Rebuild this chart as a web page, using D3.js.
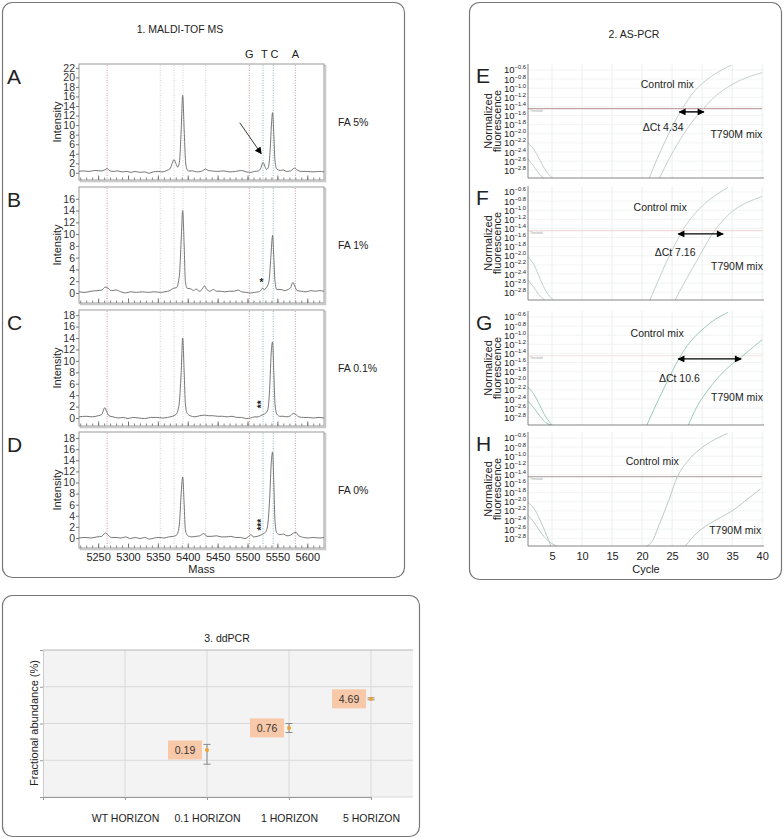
<!DOCTYPE html>
<html>
<head>
<meta charset="utf-8">
<script src="https://cdn.jsdelivr.net/npm/d3@7"></script>
<style>
  body { margin: 0; background: #fff; }
  svg { font-family: "Liberation Sans", Arial, Helvetica, sans-serif; }
</style>
</head>
<body>
<svg id="chart" width="784" height="838"></svg>
<script>
// ---------- 1. MALDI-TOF MS data ----------
var massDomain = [5218, 5628];
var massTicks = [5250, 5300, 5350, 5400, 5450, 5500, 5550, 5600];
var maldiLetters = ["A", "B", "C", "D"];
var faLabels = ["FA 5%", "FA 1%", "FA 0.1%", "FA 0%"];
var intensityMax = [22, 16, 18, 18];
var baseLetters = ["G", "T", "C", "A"];
var baseMasses = [5503, 5528, 5545, 5580];
var redMarks = [5265, 5503, 5580];
var tealMarks = [5526, 5543];
var grayMarks = [5354, 5377, 5392, 5430];

var spectrumA = [[5218,0.3],[5225,0.4],[5235,0.3],[5245,0.5],[5255,0.4],[5261,0.6],[5265,0.9],[5269,0.5],[5275,0.3],[5283,0.4],[5290,0.2],[5298,0.3],[5305,0.1],[5312,0.3],[5320,0.1],[5328,0.2],[5335,-0.1],[5342,0.2],[5350,0.3],[5358,0.2],[5365,0.5],[5370,0.8],[5374,2.0],[5377,2.8],[5380,2.0],[5383,1.2],[5386,2.2],[5389,9],[5391.5,16.2],[5394,9],[5396,3],[5398,1],[5401,0.4],[5408,0.4],[5415,0.2],[5422,0.3],[5427,0.6],[5430,0.8],[5434,0.5],[5440,0.4],[5450,0.3],[5460,0.4],[5470,0.2],[5480,0.3],[5490,0.5],[5498,0.2],[5505,0.1],[5512,0.3],[5518,0.4],[5522,0.9],[5526,2.2],[5529,1.4],[5532,0.7],[5535,1.2],[5538,5],[5540,10],[5542,12.6],[5544,8],[5546,2.5],[5549,0.8],[5555,0.5],[5560,0.6],[5565,0.3],[5572,0.4],[5576,0.8],[5579,1.0],[5583,0.6],[5590,0.3],[5600,0.3],[5610,0.2],[5620,0.3],[5628,0.2]];
var spectrumB = [[5218,0.2],[5228,0.1],[5238,0.3],[5248,0.4],[5256,0.5],[5262,1.0],[5267,0.8],[5272,0.4],[5280,0.5],[5288,0.2],[5296,0.0],[5304,0.2],[5314,0.1],[5324,0.2],[5334,0.1],[5344,0.2],[5354,0.1],[5362,0.2],[5370,0.4],[5376,0.8],[5381,0.9],[5386,3],[5389,9],[5391.5,14],[5394,8],[5396,2],[5399,0.8],[5405,0.7],[5410,0.4],[5414,0.7],[5419,0.3],[5424,0.6],[5428,1.2],[5432,0.6],[5437,0.3],[5443,0.6],[5448,0.3],[5455,0.3],[5462,0.2],[5470,0.3],[5478,0.3],[5484,0.5],[5490,0.2],[5498,0.1],[5505,0.0],[5512,0.1],[5518,0.2],[5522,0.4],[5525,0.8],[5528,0.6],[5532,1.0],[5536,2],[5539,6],[5542,9.8],[5544,6],[5546,2],[5549,0.6],[5556,0.6],[5562,0.4],[5568,0.6],[5572,0.9],[5576,1.8],[5579,1.2],[5583,0.4],[5590,0.3],[5598,0.2],[5606,0.4],[5614,0.3],[5620,0.4],[5628,0.3]];
var spectrumC = [[5218,0.2],[5230,0.3],[5240,0.2],[5250,0.4],[5256,0.6],[5261,1.8],[5264,1.2],[5268,0.4],[5275,0.2],[5284,0.0],[5292,0.1],[5300,-0.1],[5308,0.1],[5318,0.0],[5328,-0.1],[5338,0.1],[5348,0.1],[5358,0.0],[5366,0.1],[5374,0.3],[5380,0.6],[5385,2],[5389,8],[5391.5,14],[5394,8],[5396,2.5],[5399,0.8],[5404,0.4],[5412,0.2],[5420,0.4],[5428,0.5],[5435,0.4],[5442,0.4],[5450,0.3],[5458,0.3],[5466,0.2],[5474,0.3],[5482,0.1],[5490,0.1],[5498,-0.1],[5505,0.0],[5512,0.2],[5518,0.2],[5522,0.4],[5526,0.6],[5530,0.8],[5534,1.5],[5537,5],[5540,12],[5542,13.3],[5544,8],[5546,2.5],[5549,0.7],[5554,0.3],[5560,0.3],[5566,0.2],[5572,0.4],[5577,0.8],[5581,0.6],[5586,0.2],[5594,0.1],[5602,0.1],[5610,0.0],[5618,0.1],[5628,0.0]];
var spectrumD = [[5218,0.0],[5228,0.1],[5238,0.0],[5248,0.2],[5256,0.3],[5262,0.9],[5266,0.6],[5272,0.1],[5280,0.1],[5288,0.0],[5296,0.2],[5304,-0.1],[5312,0.1],[5320,-0.1],[5328,0.1],[5336,-0.2],[5344,0.0],[5352,0.1],[5360,0.0],[5368,0.2],[5376,0.3],[5382,0.6],[5386,2.5],[5389,8],[5391.5,11],[5394,6],[5396,1.5],[5400,0.4],[5406,0.2],[5414,0.3],[5420,0.4],[5427,0.8],[5432,0.3],[5440,0.3],[5448,0.4],[5456,0.2],[5464,0.2],[5472,0.3],[5480,0.1],[5488,0.1],[5496,-0.1],[5502,0.3],[5506,0.6],[5510,0.2],[5516,0.3],[5522,0.5],[5527,0.8],[5531,1.2],[5534,2.5],[5537,7],[5540,14],[5542,15.5],[5544,10],[5546,3],[5549,0.9],[5554,0.6],[5560,0.7],[5566,0.4],[5572,0.5],[5577,0.9],[5581,1.0],[5586,0.4],[5594,0.1],[5602,0.0],[5610,0.1],[5620,0.0],[5628,0.1]];
var spectra = [spectrumA, spectrumB, spectrumC, spectrumD];
var asterisks = [null, "*", "**", "***"];
var asteriskMass = 5525;
var arrowA = [[5487, 10.5], [5523, 4.0]];

// ---------- 2. AS-PCR data ----------
var cycleTicks = [5, 10, 15, 20, 25, 30, 35, 40];
var fluorExps = [-0.6, -0.8, -1.0, -1.2, -1.4, -1.6, -1.8, -2.0, -2.2, -2.4, -2.6, -2.8];
var thresholdExp = -1.45;
var pcrLetters = ["E", "F", "G", "H"];
var deltaCtLabels = ["\u0394Ct 4.34", "\u0394Ct 7.16", "\u0394Ct 10.6", null];
var deltaCtSpans = [[26.2, 30.3], [26.0, 33.5], [26.0, 36.5], null];

var bgE1 = [[1,-2.2],[2,-2.35],[3,-2.58],[4,-2.82],[5.1,-2.97]];
var bgE2 = [[1,-2.55],[2,-2.72],[3,-2.9],[3.6,-2.97]];
var ctrlE = [[21.2,-2.97],[22.5,-2.55],[24,-2.12],[25.5,-1.72],[26.8,-1.43],[28.5,-1.1],[30,-0.9],[32,-0.7],[34.8,-0.5]];
var mutE = [[22.9,-2.97],[24.5,-2.55],[26,-2.2],[28,-1.8],[30.2,-1.45],[32,-1.2],[34,-1.0],[36,-0.85],[38,-0.74],[40,-0.66]];
var bgF1 = [[1,-2.02],[2,-2.2],[3,-2.5],[4,-2.78],[5.2,-2.97]];
var bgF2 = [[1,-2.53],[2,-2.7],[3,-2.88],[3.8,-2.97]];
var ctrlF = [[21.3,-2.97],[22.5,-2.6],[24,-2.15],[25.5,-1.75],[26.7,-1.45],[28.5,-1.12],[30.5,-0.85],[32.5,-0.65],[34.3,-0.5]];
var mutF = [[25.5,-2.97],[27,-2.6],[28.5,-2.25],[30,-1.9],[31.8,-1.5],[33.5,-1.22],[35.5,-0.98],[37.5,-0.83],[40,-0.7]];
var bgG1 = [[1,-2.14],[2,-2.3],[3,-2.55],[4,-2.8],[5,-2.97]];
var bgG2 = [[1,-2.45],[2,-2.6],[3,-2.78],[4,-2.92],[4.8,-2.97]];
var ctrlG = [[20.8,-2.97],[22,-2.62],[23.5,-2.2],[25,-1.8],[26.2,-1.5],[28,-1.15],[30,-0.88],[32,-0.67],[34.3,-0.5]];
var mutG = [[27.7,-2.97],[29,-2.6],[31,-2.2],[33,-1.88],[35,-1.63],[36.8,-1.45],[38.5,-1.26],[40,-1.1]];
var bgH1 = [[1,-2.02],[2,-2.15],[3,-2.4],[4,-2.7],[4.8,-2.97]];
var bgH2 = [[1,-2.3],[2,-2.45],[3,-2.65],[4.3,-2.85],[5.7,-2.97]];
var ctrlH = [[20.8,-2.97],[21.6,-2.88],[23,-2.45],[24.5,-1.95],[25.8,-1.47],[27.5,-1.12],[29.5,-0.86],[31.5,-0.68],[34.2,-0.5]];
var mutH = [[27.2,-2.97],[29,-2.7],[31,-2.5],[33,-2.35],[35,-2.2],[37,-2.0],[39.7,-1.72]];
var pcrCurves = [[bgE1, bgE2, ctrlE, mutE], [bgF1, bgF2, ctrlF, mutF], [bgG1, bgG2, ctrlG, mutG], [bgH1, bgH2, ctrlH, mutH]];

// ---------- 3. ddPCR data ----------
var categories = ["WT HORIZON", "0.1 HORIZON", "1 HORIZON", "5 HORIZON"];
var abundance = [null, 0.19, 0.76, 4.69];
var errLow = [null, 0.078, 0.57, 4.4];
var errHigh = [null, 0.27, 1.0, 5.0];
var abundanceTicks = [0.01, 0.1, 1, 10, 100];

var svg = d3.select("#chart");

// arrow heads
var defs = svg.append("defs");
defs.append("marker")
    .attr("id", "head")
    .attr("viewBox", "0 0 10 10")
    .attr("refX", 9).attr("refY", 5)
    .attr("markerUnits", "userSpaceOnUse")
    .attr("markerWidth", 8).attr("markerHeight", 7)
    .attr("orient", "auto-start-reverse")
  .append("path")
    .attr("d", "M0,0 L10,5 L0,10 z")
    .attr("fill", "#000");

function panelBox(x, y, w, h) {
    svg.append("rect")
        .attr("x", x).attr("y", y).attr("width", w).attr("height", h)
        .attr("rx", 10).attr("ry", 10)
        .attr("fill", "none").attr("stroke", "#777").attr("stroke-width", 1.2);
}
panelBox(2.5, 2.5, 402, 575);
panelBox(469.5, 2.5, 312, 577);
panelBox(2.5, 595.5, 417, 241);

function label(g, x, y, txt, size, anchor) {
    return g.append("text").attr("x", x).attr("y", y)
        .attr("font-size", size).attr("text-anchor", anchor || "start")
        .attr("fill", "#222").text(txt);
}
function vlabel(g, x, y, txt, size) {
    return g.append("text")
        .attr("transform", "translate(" + x + "," + y + ") rotate(-90)")
        .attr("font-size", size).attr("text-anchor", "middle")
        .attr("fill", "#222").text(txt);
}

// ================= 1. MALDI-TOF MS =================
(function() {
    var g = svg.append("g").classed("maldi", true);
    label(g, 180, 33, "1. MALDI-TOF MS", 10.5, "middle");

    var left = 79, right = 324, plotH = 116;
    var tops = [64, 187, 310, 432];
    var yDomains = [[-1.5, 22.8], [-1.7, 18], [-1.4, 18.9], [-1.8, 19.1]];
    var x = d3.scaleLinear().domain(massDomain).range([left, right]);

    g.selectAll(".base-letter")
        .data(baseLetters)
        .enter()
        .append("text")
            .attr("x", function(d, i) { return x(baseMasses[i]); })
            .attr("y", 58)
            .attr("text-anchor", "middle")
            .attr("font-size", 11)
            .attr("fill", "#222")
            .text(function(d) { return d; });

    var marks = redMarks.map(function(m) { return {m: m, c: "#d48a8a"}; })
        .concat(tealMarks.map(function(m) { return {m: m, c: "#7fb0b8"}; }))
        .concat(grayMarks.map(function(m) { return {m: m, c: "#c9c9c9"}; }));

    spectra.forEach(function(data, i) {
        var top = tops[i], bottom = top + plotH;
        var y = d3.scaleLinear().domain(yDomains[i]).range([bottom, top]);
        var pg = g.append("g").classed("spectrum", true);

        // frame with slight shadow
        pg.append("rect").attr("x", left + 1.5).attr("y", top + 1.5)
            .attr("width", right - left).attr("height", plotH)
            .attr("fill", "none").attr("stroke", "#c8c8c8").attr("stroke-width", 1.5);
        pg.append("rect").attr("x", left).attr("y", top)
            .attr("width", right - left).attr("height", plotH)
            .attr("fill", "#fff").attr("stroke", "#999");

        pg.selectAll(".mark")
            .data(marks)
            .enter()
            .append("line")
                .attr("x1", function(d) { return x(d.m); })
                .attr("x2", function(d) { return x(d.m); })
                .attr("y1", top + 1).attr("y2", bottom - 1)
                .attr("stroke", function(d) { return d.c; })
                .attr("stroke-width", 0.9)
                .attr("stroke-dasharray", "1,1.5");

        // bottom ticks (inward)
        var minor = pg.append("g").attr("transform", "translate(0," + bottom + ")")
            .call(d3.axisBottom(x).tickValues(d3.range(5220, 5621, 10)).tickSize(-2.5).tickFormat(""));
        minor.select(".domain").remove();
        minor.selectAll("line").attr("stroke", "#888");
        var major = pg.append("g").attr("transform", "translate(0," + bottom + ")")
            .call(d3.axisBottom(x).tickValues(massTicks).tickSize(-4.5).tickPadding(5)
                .tickFormat(i === 3 ? d3.format("d") : ""));
        major.select(".domain").remove();
        major.selectAll("line").attr("stroke", "#777");
        major.selectAll("text").attr("font-size", 11).attr("fill", "#222")
            .attr("font-family", null);

        // y axis
        var ya = pg.append("g").attr("transform", "translate(" + left + ",0)")
            .call(d3.axisLeft(y).tickValues(d3.range(0, intensityMax[i] + 1, 2)).tickSize(3).tickPadding(1));
        ya.select(".domain").remove();
        ya.selectAll("line").attr("stroke", "#777");
        ya.selectAll("text").attr("font-size", 10.5).attr("fill", "#333").attr("font-family", null);

        var line = d3.line()
            .x(function(d) { return x(d[0]); })
            .y(function(d) { return y(d[1]); })
            .curve(d3.curveMonotoneX);
        pg.append("path").datum(data)
            .attr("d", line)
            .attr("fill", "none").attr("stroke", "#666").attr("stroke-width", 0.9);

        vlabel(pg, 61, top + plotH / 2, "Intensity", 11);
        label(pg, 7, top + 20, maldiLetters[i], 21);
        label(pg, 338, top + plotH / 2 + 4, faLabels[i], 10.5);

        if (asterisks[i]) {
            if (asterisks[i].length === 1) {
                label(pg, x(asteriskMass) - 1, y(1.2), asterisks[i], 10, "middle").attr("font-weight", "bold");
            } else {
                pg.append("text")
                    .attr("transform", "translate(" + (x(asteriskMass) + 3) + "," + y(2.4) + ") rotate(-90)")
                    .attr("font-size", 10).attr("font-weight", "bold")
                    .attr("text-anchor", "middle").attr("fill", "#222")
                    .text(asterisks[i]);
            }
        }

        if (i === 3) {
            label(pg, (left + right) / 2, 573, "Mass", 11, "middle");
        }
        if (i === 0) {
            pg.append("line")
                .attr("x1", x(arrowA[0][0])).attr("y1", y(arrowA[0][1]))
                .attr("x2", x(arrowA[1][0])).attr("y2", y(arrowA[1][1]))
                .attr("stroke", "#222").attr("stroke-width", 0.9)
                .attr("marker-end", "url(#head)");
        }
    });
})();

// ================= 2. AS-PCR =================
(function() {
    var g = svg.append("g").classed("pcr", true);
    label(g, 634, 38, "2. AS-PCR", 10.5, "middle");

    var left = 528, right = 764, plotH = 114;
    var tops = [64, 186, 311, 432];
    var curveColors = ["#c6cfcb", "#c2d2cb", "#9ccab9", "#bccac3"];
    var thresholdColors = ["#b48e8e", "#f0d2d2", "#f2e2e2", "#a89c9c"];
    var ctrlPos = [[24.2, -0.91], [23, -0.94], [22.5, -0.96], [21.7, -1.11]];
    var mutPos = [[35.7, -2.0], [35.8, -2.23], [35.8, -2.36], [35.5, -2.63]];
    var dctPos = [[23.5, -1.85], [25.5, -1.91], [26.2, -1.93], null];
    var x = d3.scaleLinear().domain([1, 40.3]).range([left, right]);

    pcrCurves.forEach(function(curves, i) {
        var top = tops[i], bottom = top + plotH;
        var y = d3.scaleLog().domain([Math.pow(10, -2.97), Math.pow(10, -0.47)]).range([bottom, top]);
        var pg = g.append("g").classed("amp", true);

        pg.selectAll(".vgrid").data(cycleTicks).enter().append("line")
            .attr("x1", function(d) { return x(d); }).attr("x2", function(d) { return x(d); })
            .attr("y1", top).attr("y2", bottom)
            .attr("stroke", "#e4ebe8").attr("stroke-width", 0.8);
        pg.selectAll(".hgrid").data(fluorExps).enter().append("line")
            .attr("x1", left).attr("x2", right)
            .attr("y1", function(d) { return y(Math.pow(10, d)); })
            .attr("y2", function(d) { return y(Math.pow(10, d)); })
            .attr("stroke", "#edf1ef").attr("stroke-width", 0.8);

        var ty = y(Math.pow(10, thresholdExp));
        pg.append("line").attr("x1", left).attr("x2", right - 2)
            .attr("y1", ty).attr("y2", ty)
            .attr("stroke", thresholdColors[i]).attr("stroke-width", 1);
        pg.append("text").attr("x", left + 2).attr("y", ty + 3)
            .attr("font-size", 2.8).attr("fill", "#999").text("Threshold");

        var line = d3.line()
            .x(function(d) { return x(d[0]); })
            .y(function(d) { return y(Math.pow(10, d[1])); })
            .curve(d3.curveMonotoneX);
        pg.selectAll(".curve").data(curves).enter().append("path")
            .attr("d", line)
            .attr("fill", "none")
            .attr("stroke", curveColors[i])
            .attr("stroke-width", 1);

        pg.append("line").attr("x1", left).attr("x2", left).attr("y1", top).attr("y2", bottom)
            .attr("stroke", "#666").attr("stroke-width", 0.8);
        pg.append("line").attr("x1", left).attr("x2", right).attr("y1", bottom).attr("y2", bottom)
            .attr("stroke", "#666").attr("stroke-width", 0.8);

        var ticks = pg.selectAll(".ytick").data(fluorExps).enter().append("text")
            .attr("x", left - 2)
            .attr("y", function(d) { return y(Math.pow(10, d)) + 3.5; })
            .attr("text-anchor", "end")
            .attr("fill", "#222");
        ticks.append("tspan").attr("font-size", 9.5).text("10");
        ticks.append("tspan").attr("font-size", 5.8).attr("dy", -4)
            .text(function(d) { return "\u2212" + Math.abs(d).toFixed(1); });

        vlabel(pg, 492, top + plotH / 2, "Normalized", 11);
        vlabel(pg, 500.5, top + plotH / 2, "fluorescence", 11);
        label(pg, 476, top + 19, pcrLetters[i], 21);

        label(pg, x(ctrlPos[i][0]), y(Math.pow(10, ctrlPos[i][1])) + 4, "Control mix", 10.5, "middle");
        label(pg, x(mutPos[i][0]), y(Math.pow(10, mutPos[i][1])) + 4, "T790M mix", 10.5, "middle");
        if (deltaCtLabels[i]) {
            label(pg, x(dctPos[i][0]), y(Math.pow(10, dctPos[i][1])) + 4, deltaCtLabels[i], 10.5, "middle");
            var ay = y(Math.pow(10, -1.52));
            pg.append("line")
                .attr("x1", x(deltaCtSpans[i][0])).attr("x2", x(deltaCtSpans[i][1]))
                .attr("y1", ay).attr("y2", ay)
                .attr("stroke", "#000").attr("stroke-width", 1.4)
                .attr("marker-start", "url(#head)").attr("marker-end", "url(#head)");
        }

        if (i === 3) {
            var xa = pg.append("g").attr("transform", "translate(0," + bottom + ")")
                .call(d3.axisBottom(x).tickValues(cycleTicks).tickSize(0).tickPadding(6));
            xa.select(".domain").remove();
            xa.selectAll("text").attr("font-size", 11).attr("fill", "#222").attr("font-family", null);
            label(pg, (left + right) / 2, 573, "Cycle", 11, "middle");
        }
    });
})();

// ================= 3. ddPCR =================
(function() {
    var g = svg.append("g").classed("ddpcr", true);
    label(g, 227, 642, "3. ddPCR", 10.5, "middle");

    var left = 43, right = 413, top = 650, bottom = 797;
    var x = d3.scalePoint().domain([""].concat(categories)).range([left, 371]);
    var y = d3.scaleLog().domain([0.01, 100]).range([bottom, top]);

    g.append("rect").attr("x", left).attr("y", top)
        .attr("width", right - left).attr("height", bottom - top)
        .attr("fill", "#f3f3f3");
    g.selectAll(".vgrid").data(categories).enter().append("line")
        .attr("x1", function(d) { return x(d); }).attr("x2", function(d) { return x(d); })
        .attr("y1", top).attr("y2", bottom)
        .attr("stroke", "#d9d9d9");
    g.selectAll(".hgrid").data(abundanceTicks).enter().append("line")
        .attr("x1", left).attr("x2", right)
        .attr("y1", function(d) { return y(d); }).attr("y2", function(d) { return y(d); })
        .attr("stroke", function(d) { return d === 100 ? "#b8b8b8" : "#d9d9d9"; });

    var ya = g.append("g").attr("transform", "translate(" + left + ",0)")
        .call(d3.axisLeft(y).tickValues(abundanceTicks).tickSize(3).tickFormat(""));
    ya.select(".domain").attr("stroke", "#ccc");
    ya.selectAll("line").attr("stroke", "#999");

    var xa = g.append("g").attr("transform", "translate(0," + bottom + ")")
        .call(d3.axisBottom(x).tickSize(3).tickPadding(15));
    xa.select(".domain").attr("stroke", "#999");
    xa.selectAll("line").attr("stroke", "#999");
    xa.selectAll("text").attr("font-size", 10.5).attr("fill", "#222").attr("font-family", null);

    vlabel(g, 38, 723, "Fractional abundance (%)", 11);

    var pts = categories.map(function(c, i) {
        return {c: c, v: abundance[i], lo: errLow[i], hi: errHigh[i]};
    }).filter(function(d) { return d.v !== null; });

    var pt = g.selectAll(".pt").data(pts).enter().append("g").classed("pt", true);
    pt.append("rect")
        .attr("x", function(d) { return x(d.c) - 39; })
        .attr("y", function(d) { return y(d.v) - 9.5; })
        .attr("width", 34).attr("height", 19)
        .attr("fill", "#f8c9a9");
    pt.append("text")
        .attr("x", function(d) { return x(d.c) - 22; })
        .attr("y", function(d) { return y(d.v) + 4; })
        .attr("text-anchor", "middle").attr("font-size", 10.5).attr("fill", "#333")
        .text(function(d) { return d.v.toFixed(2); });
    pt.append("line")
        .attr("x1", function(d) { return x(d.c); }).attr("x2", function(d) { return x(d.c); })
        .attr("y1", function(d) { return y(d.lo); }).attr("y2", function(d) { return y(d.hi); })
        .attr("stroke", "#8a8a8a");
    ["lo", "hi"].forEach(function(k) {
        pt.append("line")
            .attr("x1", function(d) { return x(d.c) - 3.5; }).attr("x2", function(d) { return x(d.c) + 3.5; })
            .attr("y1", function(d) { return y(d[k]); }).attr("y2", function(d) { return y(d[k]); })
            .attr("stroke", "#8a8a8a");
    });
    pt.append("circle")
        .attr("cx", function(d) { return x(d.c); })
        .attr("cy", function(d) { return y(d.v); })
        .attr("r", 2).attr("fill", "#f0a030");
})();
</script>
</body>
</html>
